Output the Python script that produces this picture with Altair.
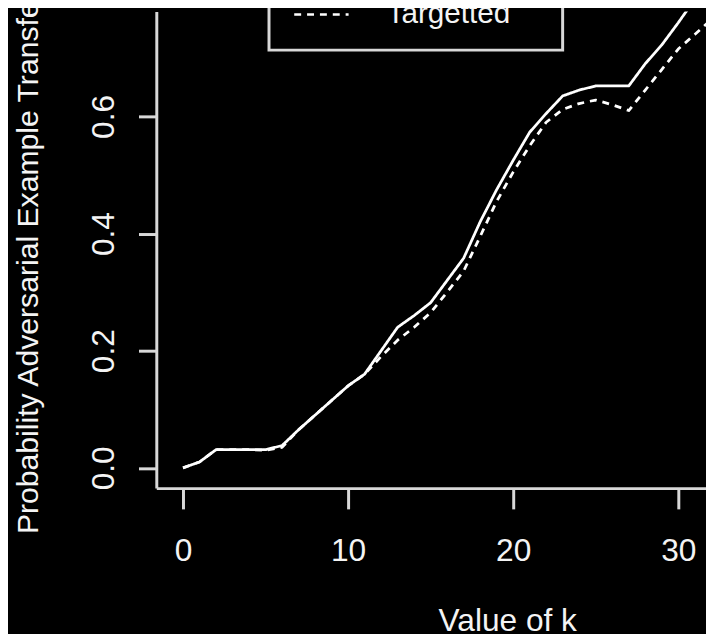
import altair as alt
import pandas as pd

# ---- data ----
k_values = list(range(33))
untargetted = [0.0, 0.01, 0.031, 0.031, 0.031, 0.031, 0.038, 0.065, 0.09, 0.115,
               0.14, 0.16, 0.20, 0.24, 0.26, 0.282, 0.32, 0.358, 0.42, 0.475,
               0.525, 0.573, 0.605, 0.635, 0.645, 0.652, 0.652, 0.652, 0.69, 0.722,
               0.76, 0.80, 0.84]
targetted = [0.0, 0.01, 0.031, 0.031, 0.031, 0.03, 0.035, 0.065, 0.09, 0.115,
             0.14, 0.16, 0.19, 0.218, 0.24, 0.265, 0.30, 0.336, 0.395, 0.455,
             0.505, 0.55, 0.59, 0.612, 0.622, 0.628, 0.62, 0.61, 0.645, 0.68,
             0.715, 0.74, 0.765]
series_names = ["Untargetted", "Targetted"]
x_ticks = [0, 10, 20, 30]
y_ticks = [0.0, 0.2, 0.4, 0.6, 0.8]

rows = []
for name, vals in zip(series_names, [untargetted, targetted]):
    for k, v in zip(k_values, vals):
        rows.append({"k": k, "p": v, "series": name})
df = pd.DataFrame(rows)

FONT = "Liberation Sans"
AXIS_COL = "#d8d8d8"
TEXT_COL = "#f4f4f4"

chart = alt.Chart(df).mark_line(
    clip=True, strokeWidth=2.8, color="white", strokeCap="butt", strokeJoin="round"
).encode(
    x=alt.X(
        "k:Q",
        scale=alt.Scale(domain=[-1.617, 31.68], nice=False, zero=False),
        axis=alt.Axis(
            values=x_ticks, format="d", title="Value of k",
            tickSize=21, labelPadding=52, labelBaseline="alphabetic",
            labelAlign="center", labelFlush=False, labelOverlap=False,
            titleX=355, titleY=144, titleAlign="center", titleBaseline="alphabetic",
            titleFontSize=32,
        ),
    ),
    y=alt.Y(
        "p:Q",
        scale=alt.Scale(domain=[-0.0346, 0.779], nice=False, zero=False),
        axis=alt.Axis(
            values=y_ticks, format=".1f",
            title="Probability Adversarial Example Transfers",
            tickSize=18, labelPadding=25, labelAngle=270,
            labelAlign="center", labelBaseline="alphabetic",
            labelFlush=False, labelOverlap=False, labelBound=False,
            titleAngle=270, titleAlign="left", titleBaseline="alphabetic",
            titleX=-120, titleY=528, titleFontSize=30.5,
        ),
    ),
    strokeDash=alt.StrokeDash(
        "series:N",
        scale=alt.Scale(domain=series_names, range=[[1, 0], [7, 6]]),
        legend=alt.Legend(
            title=None, orient="none", legendX=114, legendY=-69,
            direction="vertical",
            symbolType="M-3,0H3", symbolSize=336,
            symbolStrokeColor="white", symbolStrokeWidth=2.6,
            symbolFillColor="transparent",
            symbolOffset=17, labelOffset=51,
            labelFontSize=30, labelColor=TEXT_COL, labelFont=FONT,
            padding=21, rowPadding=6,
            strokeColor=AXIS_COL,
        ),
    ),
    order="k:Q",
).properties(
    width=556,
    height=482,
    padding={"left": 150, "top": 0, "right": 0, "bottom": 150},
    autosize=alt.AutoSizeParams(type="none"),
    background="black",
).configure_view(
    stroke=None
).configure_axis(
    grid=False,
    domainColor=AXIS_COL, domainWidth=3,
    tickColor=AXIS_COL, tickWidth=3,
    labelColor=TEXT_COL, labelFont=FONT, labelFontSize=32,
    titleColor=TEXT_COL, titleFont=FONT, titleFontWeight="normal",
).configure_legend(
    strokeWidth=3,
)

chart.save("out.html", embed_options={"renderer": "svg", "actions": False})
